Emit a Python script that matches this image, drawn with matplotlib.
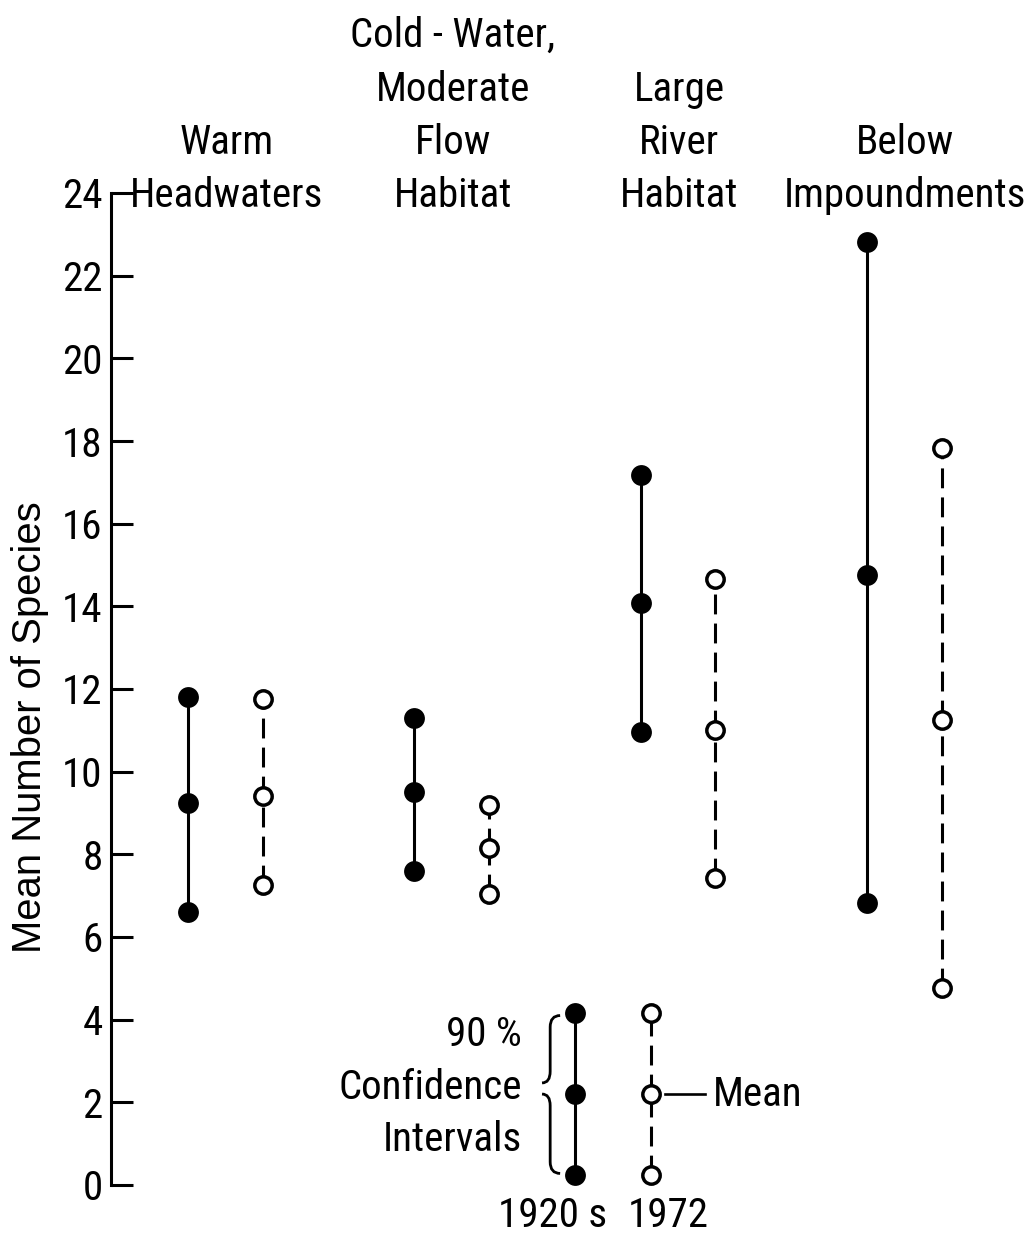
import matplotlib
matplotlib.use("Agg")
import matplotlib.pyplot as plt
from matplotlib import font_manager as fm
from matplotlib.path import Path
from matplotlib.patches import PathPatch

# ---- data -------------------------------------------------------------
categories = ["Warm\nHeadwaters",
              "Cold - Water,\nModerate\nFlow\nHabitat",
              "Large\nRiver\nHabitat",
              "Below\nImpoundments"]

lo_1920 = [6.6, 7.6, 10.95, 6.82]
mean_1920 = [9.25, 9.5, 14.08, 14.76]
hi_1920 = [11.8, 11.3, 17.18, 22.82]

lo_1972 = [7.25, 7.05, 7.43, 4.77]
mean_1972 = [9.42, 8.15, 11.0, 11.25]
hi_1972 = [11.75, 9.2, 14.66, 17.83]

# explanatory key drawn inside the plot
key_values = [0.25, 2.2, 4.15]          # lower limit, mean, upper limit
key_labels = ["1920 s", "1972"]

yticks = list(range(0, 25, 2))

# ---- fonts -------------------------------------------------------------
installed = {f.name for f in fm.fontManager.ttflist}
narrow = None
for cand in ["Liberation Sans Narrow", "Roboto Condensed", "Open Sans Condensed",
             "Noto Sans Condensed", "DejaVu Sans Condensed"]:
    if cand in installed:
        narrow = cand
        break
if narrow is None:
    narrow_fp = dict(family="DejaVu Sans", stretch="condensed")
else:
    narrow_fp = dict(family=narrow)

FS = 29.5

# ---- figure -------------------------------------------------------------
W, H = 1026, 1238
fig = plt.figure(figsize=(W / 100, H / 100), dpi=100)
left_px, right_px, y0_px, y24_px = 111, 1026, 1185, 193
ax = fig.add_axes([left_px / W, 1 - y0_px / H,
                   (right_px - left_px) / W, (y0_px - y24_px) / H])
ax.set_xlim(-0.341, 3.703)
ax.set_ylim(0, 24)

for s in ["top", "right", "bottom"]:
    ax.spines[s].set_visible(False)
ax.spines["left"].set_linewidth(2.2)
ax.set_xticks([])
ax.set_yticks(yticks)
ax.tick_params(axis="y", direction="in", length=16, width=2.2, pad=6)
for lab in ax.get_yticklabels():
    lab.set_fontproperties(fm.FontProperties(size=FS, **narrow_fp))

fig.text(30 / W, 1 - 727 / H, "Mean Number of Species", rotation=90,
         ha="center", va="center", fontsize=28.8, family="Liberation Sans")

off = 0.33
solid_kw = dict(color="black", lw=2.2, solid_capstyle="butt", zorder=2)
dash_kw = dict(color="black", lw=2.2, dashes=(6.5, 3.0), zorder=2)
fill_kw = dict(marker="o", ms=15, mfc="black", mec="black", mew=0,
               ls="none", zorder=3, clip_on=False)
open_kw = dict(marker="o", ms=12.5, mfc="white", mec="black", mew=2.5,
               ls="none", zorder=3, clip_on=False)


def draw_pair(x1, lo1, m1, hi1, x2, lo2, m2, hi2):
    ax.plot([x1, x1], [lo1, hi1], **solid_kw)
    ax.plot([x1] * 3, [lo1, m1, hi1], **fill_kw)
    ax.plot([x2, x2], [m2, hi2], **dash_kw)
    ax.plot([x2, x2], [lo2, m2], **dash_kw)
    ax.plot([x2] * 3, [lo2, m2, hi2], **open_kw)


for i in range(len(categories)):
    draw_pair(i, lo_1920[i], mean_1920[i], hi_1920[i],
              i + off, lo_1972[i], mean_1972[i], hi_1972[i])
    ax.text(i + off / 2 + 0.005, 23.66, categories[i], ha="center",
            va="baseline", fontsize=FS, linespacing=1.46, clip_on=False,
            **narrow_fp)

# ---- key ---------------------------------------------------------------
kx1, kx2 = 1.71, 2.046
lo_k, m_k, hi_k = key_values
draw_pair(kx1, lo_k, m_k, hi_k, kx2, lo_k, m_k, hi_k)

ax.text(1.476, 3.63, "90 %", ha="right", va="center", fontsize=FS, **narrow_fp)
ax.text(1.476, 2.37, "Confidence", ha="right", va="center", fontsize=FS, **narrow_fp)
ax.text(1.476, 1.09, "Intervals", ha="right", va="center", fontsize=FS, **narrow_fp)

# two half braces joining at the mean level
xt, xv, xe = 1.564, 1.600, 1.644
r = 0.28
upper = Path([(xe, 4.10), (xv, 4.10), (xv, 4.10 - r),
              (xv, 2.47 + r),
              (xv, 2.47), (xt, 2.47)],
             [Path.MOVETO, Path.CURVE3, Path.CURVE3,
              Path.LINETO, Path.CURVE3, Path.CURVE3])
lower = Path([(xt, 2.20), (xv, 2.20), (xv, 2.20 - r),
              (xv, 0.28 + r),
              (xv, 0.28), (xe, 0.28)],
             [Path.MOVETO, Path.CURVE3, Path.CURVE3,
              Path.LINETO, Path.CURVE3, Path.CURVE3])
for p in (upper, lower):
    ax.add_patch(PathPatch(p, fc="none", ec="black", lw=2.0, clip_on=False))

ax.plot([2.108, 2.285], [m_k, m_k], color="black", lw=1.9, clip_on=False)
ax.text(2.32, m_k, "Mean", ha="left", va="center", fontsize=FS, **narrow_fp)

ax.text(1.852, -0.73, key_labels[0], ha="right", va="center", fontsize=FS,
        clip_on=False, **narrow_fp)
ax.text(1.945, -0.73, key_labels[1], ha="left", va="center", fontsize=FS,
        clip_on=False, **narrow_fp)

fig.savefig("out.png", dpi=100, facecolor="white")
